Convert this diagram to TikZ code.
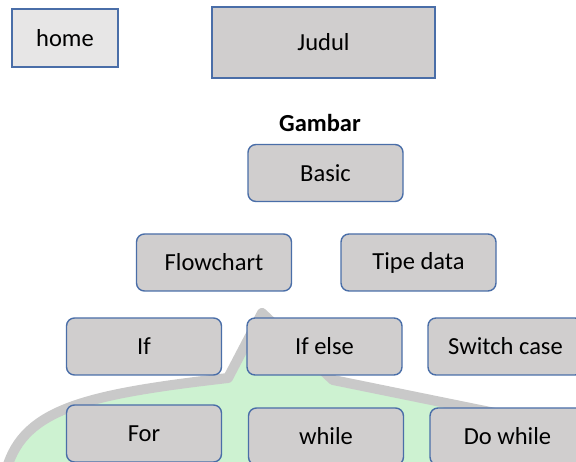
\documentclass[tikz,border=0pt]{standalone}
\usepackage{fontspec}
\setmainfont{Carlito}
\definecolor{boxblue}{HTML}{4A6EA8}
\definecolor{boxgray}{HTML}{D0CECE}
\definecolor{homegray}{HTML}{E7E6E6}
\definecolor{markgray}{HTML}{C9C9C9}
\definecolor{markgreen}{HTML}{CDF2D1}
\begin{document}
\begin{tikzpicture}[x=1pt, y=-1pt,
    menu/.style={draw=boxblue, fill=boxgray, line width=1.4pt, rounded corners=8pt,
      minimum width=155pt, minimum height=57pt, font=\fontsize{24.5}{29}\selectfont},
    flat/.style={draw=boxblue, line width=1.4pt, font=\fontsize{24.5}{29}\selectfont}]
  \useasboundingbox (0,0) rectangle (576,462);
  \clip (0,0) rectangle (576,462);
  % Watermark behind the menu
  \draw[markgray, line width=10pt, line join=round, fill=markgreen]
    (5,475) .. controls (20,410) and (80,395) .. (228,378) -- (262,313)
    -- (333,380) -- (500,414) -- (500,490) -- (5,490) -- cycle;
  % Header
  \node[flat, fill=homegray, minimum width=106pt, minimum height=58pt] (home) at (65,38) {home};
  \node[flat, fill=boxgray, minimum width=223pt, minimum height=71pt] (judul) at (323.5,42.5) {Judul};
  \node[font=\bfseries\fontsize{24.5}{29}\selectfont] (gambar) at (320,123) {Gambar};
  % Menu boxes
  \node[menu] (basic) at (325.5,173) {Basic};
  \node[menu] (flowchart) at (214,262.5) {Flowchart};
  \node[menu] (tipedata) at (418.5,262.5) {Tipe data};
  \node[menu] (if) at (144,346.5) {If};
  \node[menu] (ifelse) at (324.5,346.5) {If else};
  \node[menu] (switchcase) at (505.5,346.5) {Switch case};
  \node[menu] (for) at (144,433.5) {For};
  \node[menu] (while) at (326,436.5) {while};
  \node[menu] (dowhile) at (507.5,436.5) {Do while};
\end{tikzpicture}
\end{document}
